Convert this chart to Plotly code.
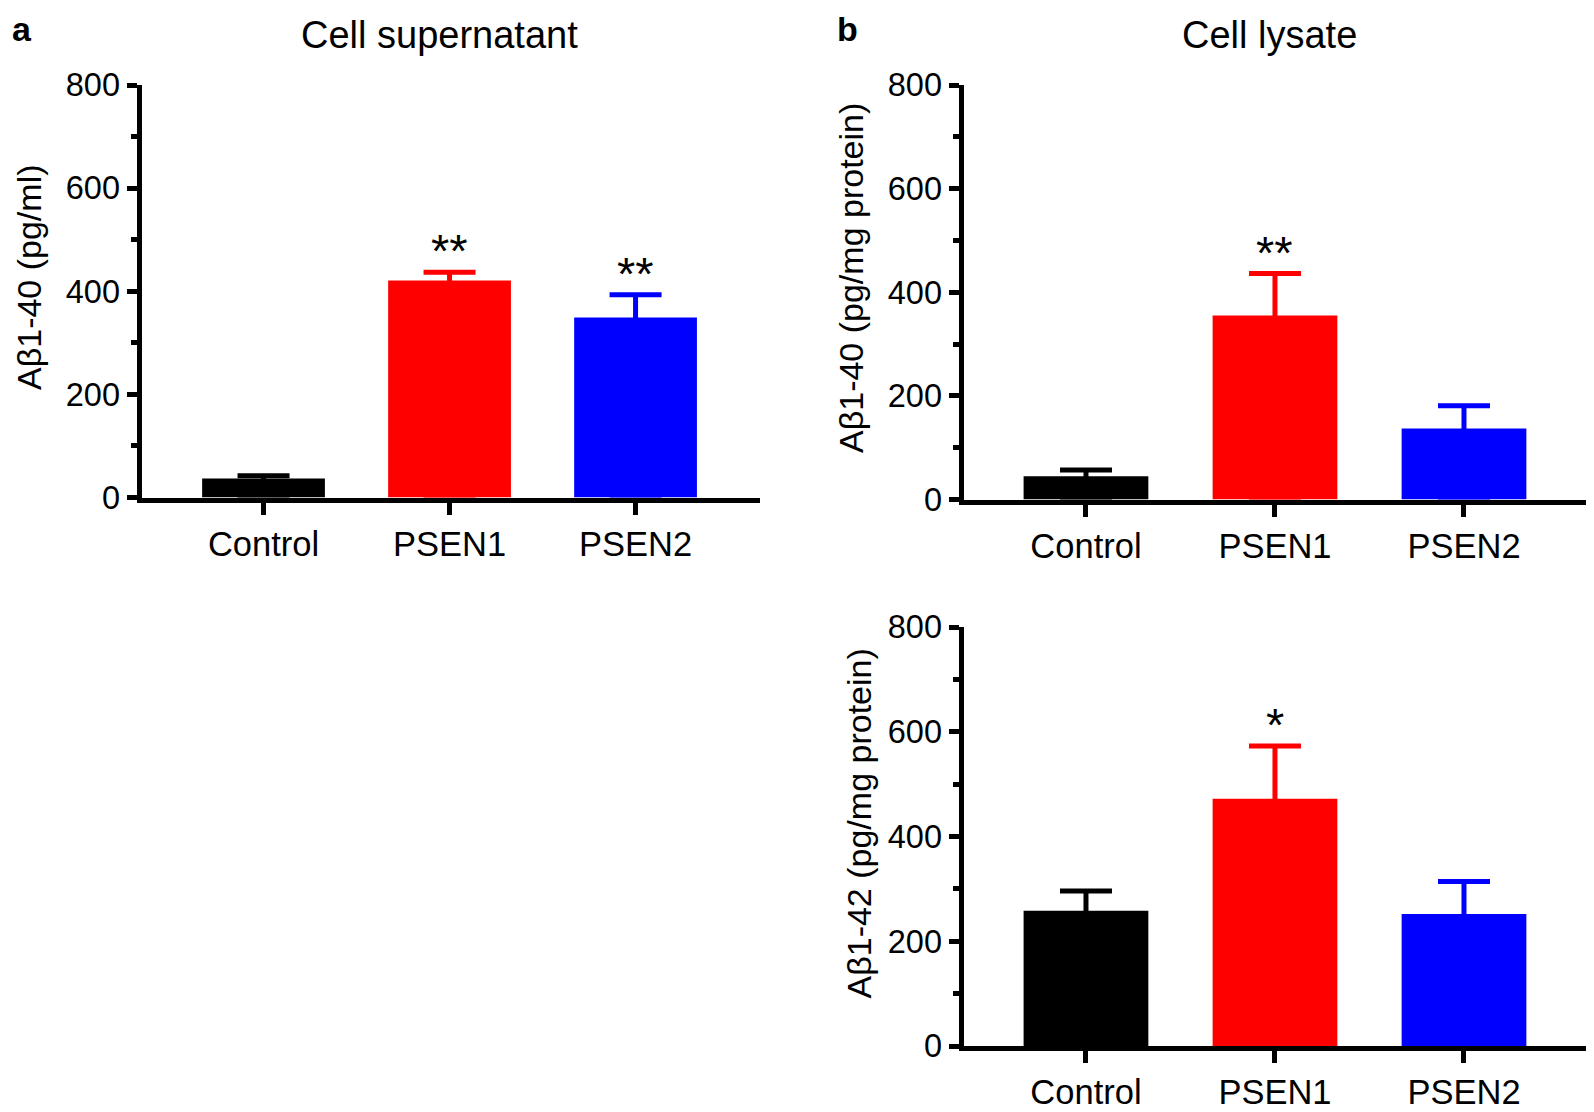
import plotly.graph_objects as go

# The page body has an 8px margin, so the figure is sized to fit inside it
OFF = 8
W, H = 1594 - OFF, 1112 - OFF

categories = ["Control", "PSEN1", "PSEN2"]
bar_colors = ["#000000", "#FF0000", "#0000FF"]

sup_ab40_mean = [37, 421, 349]
sup_ab40_err = [5, 16, 44]
lys_ab40_mean = [45, 355, 137]
lys_ab40_err = [12, 81, 44]
lys_ab42_mean = [258, 472, 252]
lys_ab42_err = [38, 101, 62]

sup_ab40_sig = ["", "**", "**"]
lys_ab40_sig = ["", "**", ""]
lys_ab42_sig = ["", "*", ""]

y_ticks = [0, 200, 400, 600, 800]

FONT = "Arial, Liberation Sans, sans-serif"
LW = 5


def px(vx):
    return (vx - OFF) / W


def py(vy):
    return 1 - (vy - OFF) / H


panels = [
    dict(mean=sup_ab40_mean, err=sup_ab40_err, sig=sup_ab40_sig,
         x0=141.5, x1=760, ytop=85, ybot=497.5, xr=[-0.656, 2.669],
         ytitle="Aβ1-40 (pg/ml)", ytx=29, yty=277),
    dict(mean=lys_ab40_mean, err=lys_ab40_err, sig=lys_ab40_sig,
         x0=963.5, x1=1591, ytop=85, ybot=499.5, xr=[-0.648, 2.672],
         ytitle="Aβ1-40 (pg/mg protein)", ytx=851, yty=278),
    dict(mean=lys_ab42_mean, err=lys_ab42_err, sig=lys_ab42_sig,
         x0=963.5, x1=1591, ytop=627, ybot=1046, xr=[-0.648, 2.672],
         ytitle="Aβ1-42 (pg/mg protein)", ytx=858, yty=823.5),
]

fig = go.Figure()
annotations = []
layout_axes = {}

for i, p in enumerate(panels):
    n = "" if i == 0 else str(i + 1)
    xa, ya = "x" + n, "y" + n
    for j, cat in enumerate(categories):
        fig.add_trace(go.Bar(
            x=[cat], y=[p["mean"][j]], xaxis=xa, yaxis=ya,
            marker=dict(color=bar_colors[j], line=dict(width=0)),
            width=0.66, showlegend=False,
            # upper error only; lower whisker hidden inside the bar
            error_y=dict(type="data", symmetric=False,
                         array=[p["err"][j]], arrayminus=[p["mean"][j]],
                         color=bar_colors[j], thickness=5, width=26),
        ))
        if p["sig"][j]:
            annotations.append(dict(
                x=cat, y=p["mean"][j] + p["err"][j], xref=xa, yref=ya,
                text=p["sig"][j], showarrow=False, yanchor="bottom",
                font=dict(size=47, color="black", family=FONT), yshift=-7))
    layout_axes["xaxis" + n] = dict(
        domain=[px(p["x0"]), px(p["x1"])], anchor=ya,
        range=p["xr"], type="category", categoryarray=categories,
        showline=True, linewidth=LW, linecolor="black",
        ticks="outside", ticklen=12, tickwidth=LW, tickcolor="black",
        showgrid=False, zeroline=False, automargin=False,
        tickfont=dict(size=34.5, color="black", family=FONT),
    )
    layout_axes["yaxis" + n] = dict(
        domain=[py(p["ybot"]), py(p["ytop"])], anchor=xa,
        range=[0, 800], tickvals=y_ticks,
        showline=True, linewidth=LW, linecolor="black",
        ticks="outside", ticklen=10, tickwidth=LW, tickcolor="black",
        minor=dict(ticks="outside", ticklen=6, tickwidth=LW,
                   tickcolor="black", dtick=100, showgrid=False),
        showgrid=False, zeroline=False, automargin=False,
        tickfont=dict(size=32.5, color="black", family=FONT),
    )
    annotations.append(dict(
        x=px(p["ytx"]), y=py(p["yty"]), xref="paper", yref="paper",
        text=p["ytitle"], textangle=-90, showarrow=False,
        xanchor="center", yanchor="middle",
        font=dict(size=34, color="black", family=FONT)))

annotations += [
    dict(x=px(439), y=py(35), xref="paper", yref="paper",
         text="Cell supernatant", showarrow=False,
         xanchor="center", yanchor="middle",
         font=dict(size=38, color="black", family=FONT)),
    dict(x=px(1269), y=py(35), xref="paper", yref="paper",
         text="Cell lysate", showarrow=False,
         xanchor="center", yanchor="middle",
         font=dict(size=38, color="black", family=FONT)),
    dict(x=px(22), y=py(29), xref="paper", yref="paper",
         text="<b>a</b>", showarrow=False,
         xanchor="center", yanchor="middle",
         font=dict(size=34, color="black", family=FONT)),
    dict(x=px(847), y=py(29), xref="paper", yref="paper",
         text="<b>b</b>", showarrow=False,
         xanchor="center", yanchor="middle",
         font=dict(size=34, color="black", family=FONT)),
]

fig.update_layout(
    width=W, height=H,
    margin=dict(l=0, r=0, t=0, b=0, pad=0, autoexpand=False),
    paper_bgcolor="white", plot_bgcolor="white",
    annotations=annotations,
    bargap=0.34,
    **layout_axes,
)

fig.write_html("out.html")
